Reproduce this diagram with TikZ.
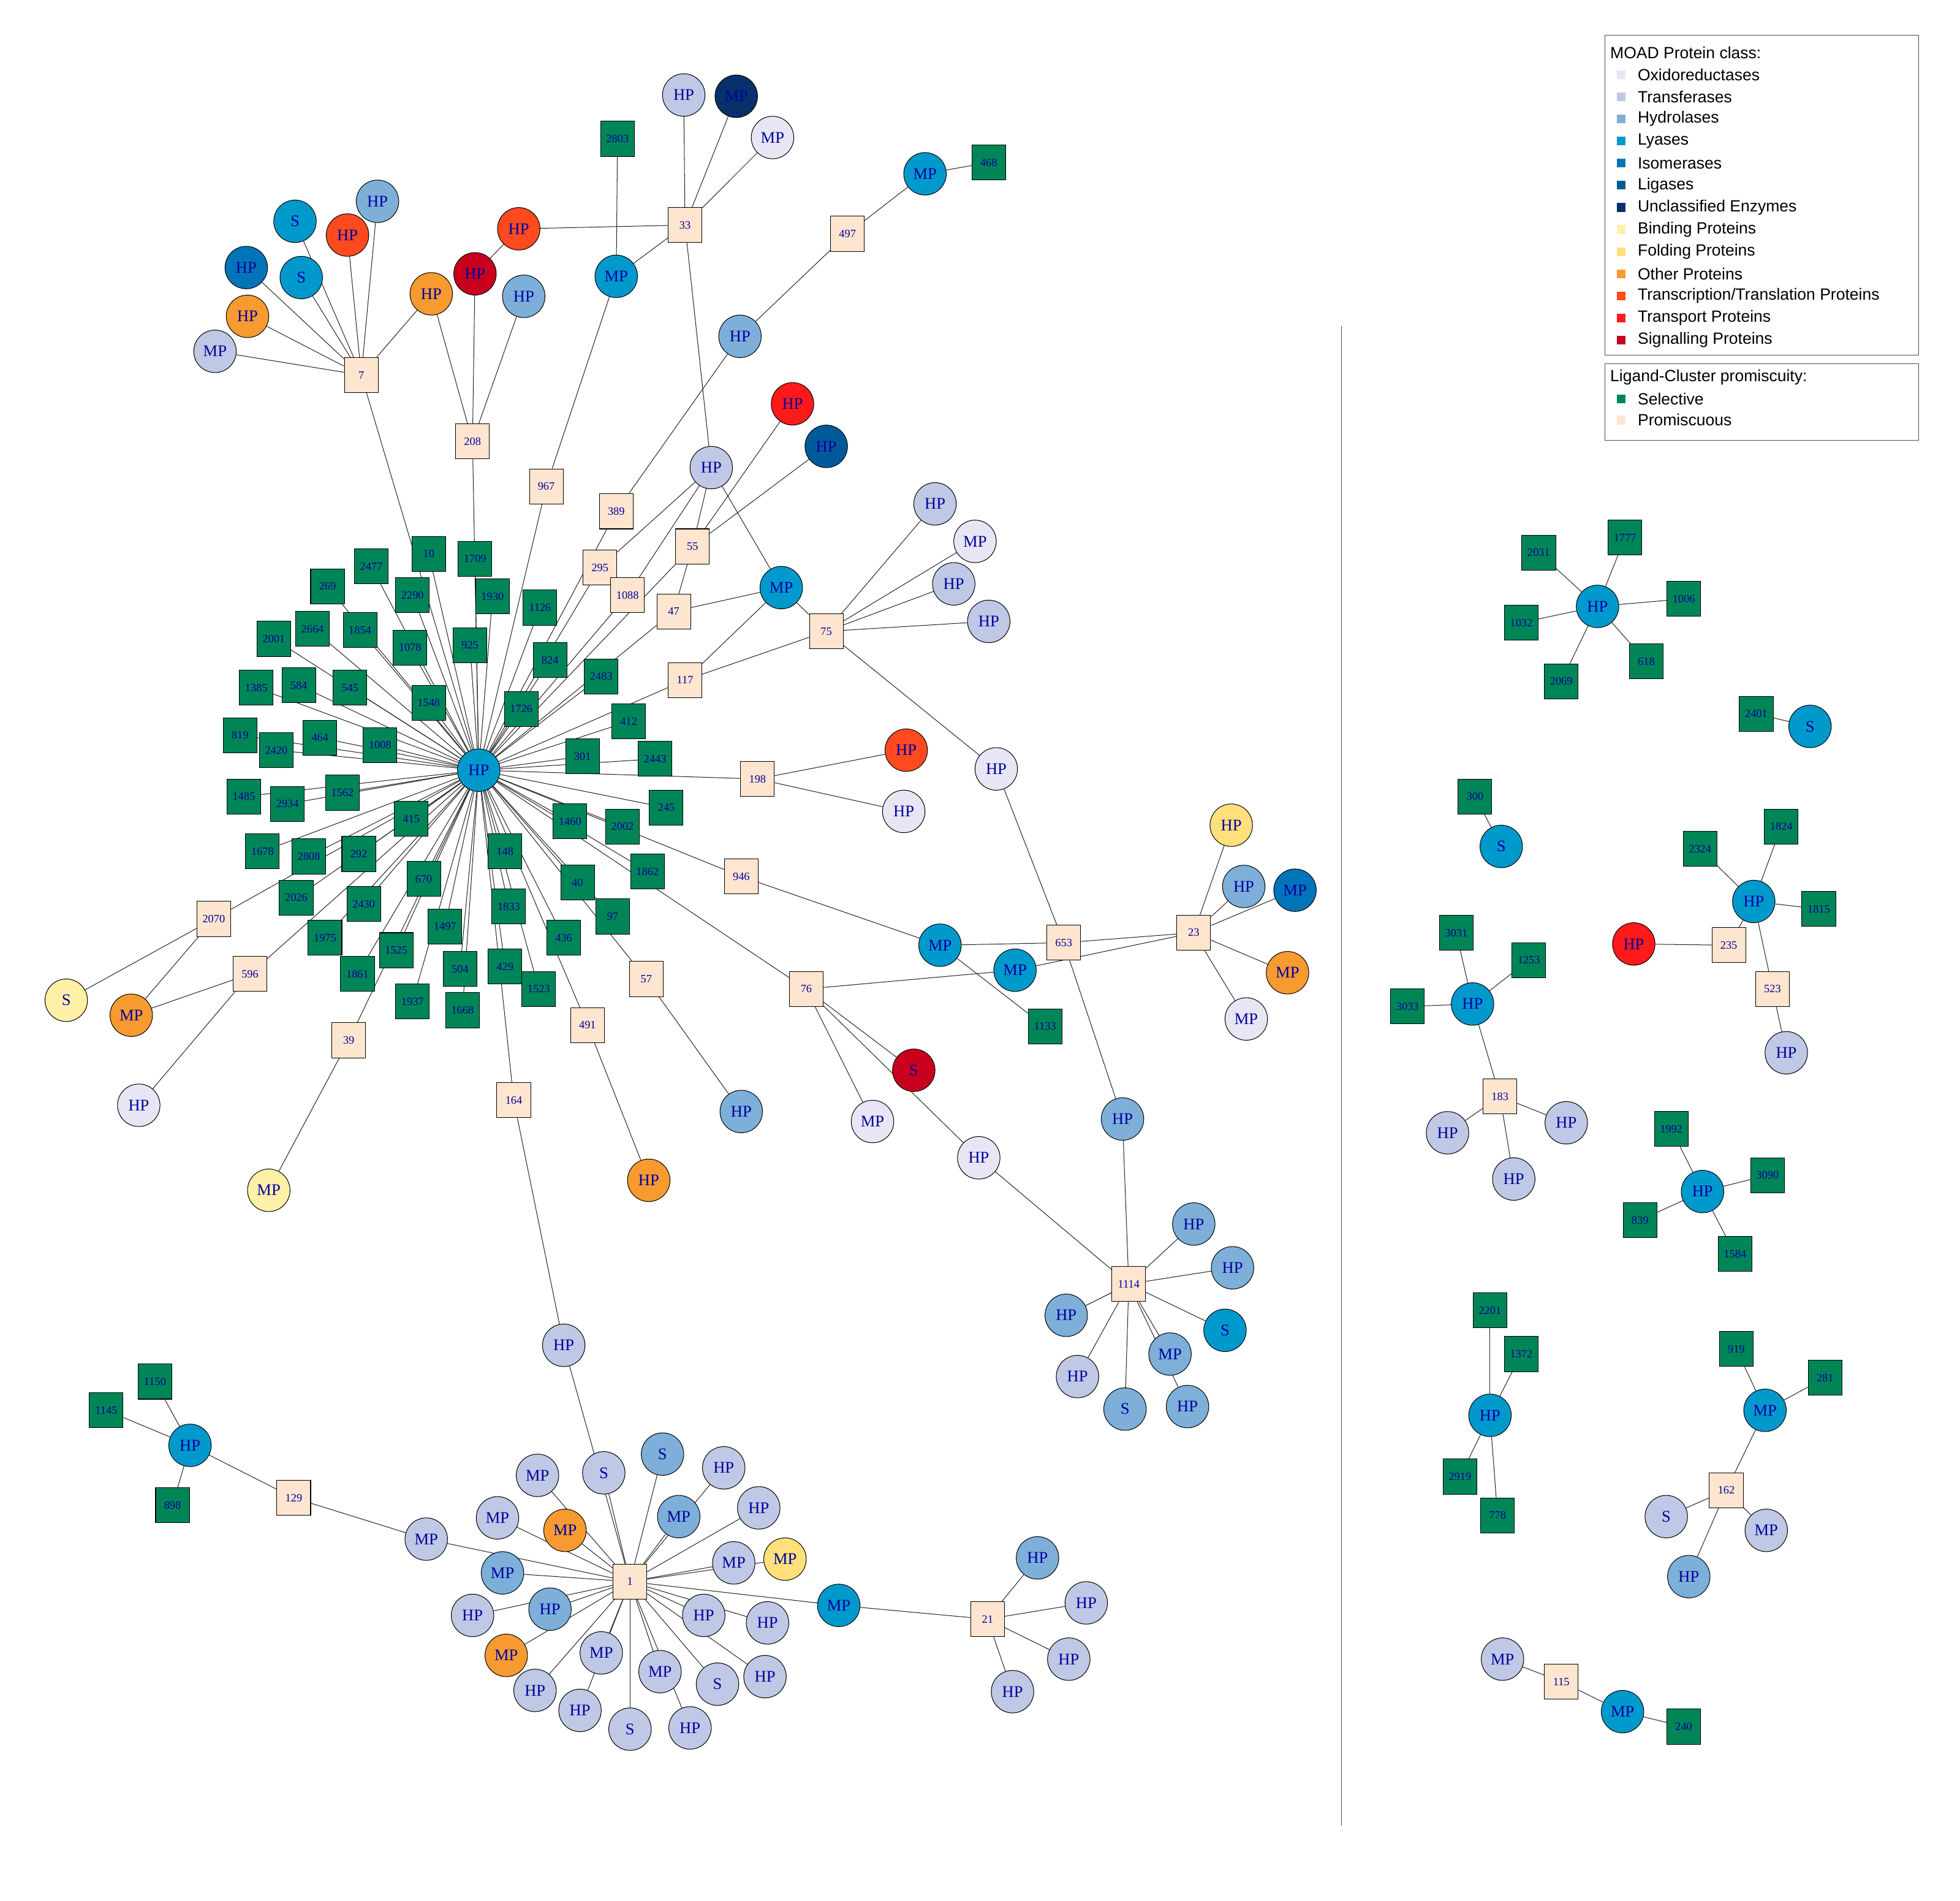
\documentclass[tikz,border=0pt]{standalone}
\usepackage{fontspec}
\setmainfont{Liberation Serif}
\newfontfamily\legf{Liberation Sans}
\usetikzlibrary{backgrounds}
\definecolor{cox}{HTML}{E8E6F4}\definecolor{ctr}{HTML}{BFC8E4}\definecolor{chy}{HTML}{7DAFD8}
\definecolor{cly}{HTML}{0099CC}\definecolor{cis}{HTML}{0074B8}\definecolor{cli}{HTML}{005A9A}
\definecolor{cun}{HTML}{08306B}\definecolor{cbi}{HTML}{FFF0A8}\definecolor{cfo}{HTML}{FFE07A}
\definecolor{cot}{HTML}{F79A30}\definecolor{ctt}{HTML}{FF4A20}\definecolor{ctp}{HTML}{FF1A1A}
\definecolor{csi}{HTML}{C8001E}\definecolor{csel}{HTML}{008556}\definecolor{cpro}{HTML}{FDE5CF}
\definecolor{txt}{HTML}{0000A0}
\tikzset{
 cn/.style={circle,draw=black,line width=0.5pt,fill=#1,minimum size=34,inner sep=0,font=\fontsize{13}{13}\selectfont,text=txt},
 ox/.style={cn=cox},tr/.style={cn=ctr},hy/.style={cn=chy},ly/.style={cn=cly},is/.style={cn=cis},
 li/.style={cn=cli},un/.style={cn=cun},bi/.style={cn=cbi},fo/.style={cn=cfo},ot/.style={cn=cot},
 tt/.style={cn=ctt},tp/.style={cn=ctp},si/.style={cn=csi},
 sqr/.style={rectangle,draw=black,line width=0.5pt,fill=#1,minimum width=27,minimum height=28,inner sep=0,font=\fontsize{9}{9}\selectfont,text=txt},
 sel/.style={sqr=csel},pro/.style={sqr=cpro},
 ed/.style={draw=black!85,line width=0.5pt},
 lg/.style={anchor=west,font=\legf\fontsize{13}{13}\selectfont,inner sep=0},
 mk/.style={minimum size=7,inner sep=0,fill=#1}
}
\begin{document}
\begin{tikzpicture}[x=1pt,y=-1pt]
\useasboundingbox (0,0) rectangle (1568,1520);
\node[ly] (H) at (383,616) {HP};
\foreach \l/\x/\y in {10/343/443,1709/380/447,2477/297/453,269/262/469,2290/330/476,1930/394/477,1126/432/486,2664/250/503,1854/288/504,1078/328/518,925/376/516,2001/219/511,824/440/528,2483/481/541,1385/205/550,584/239/548,545/280/550,1548/343/562,1726/417/567,819/192/588,2420/221/600,464/256/590,1008/304/596,412/503/577,301/466/605,2443/524/607,1485/195/637,2934/230/643,1562/274/634,415/329/655,245/533/646,1460/456/657,2002/498/661,1678/210/681,2808/247/685,292/287/683,148/404/681,1862/518/697,670/339/703,40/462/706,2026/237/718,2430/291/723,97/490/733,1833/407/725,1975/260/750,1497/356/741,436/451/750,1525/317/760,504/368/775,429/404/773,1861/286/779,1523/431/791,1937/330/801,1668/370/808}
 {\node[sel] (s\l) at (\x,\y) {\l};
  \begin{pgfonlayer}{background}\draw[ed] (H)--(s\l);\end{pgfonlayer}}
% promiscuous
\foreach \l/\x/\y in {7/289/300,208/378/353,33/548/180,967/437/389,497/678/187,389/493/409,295/480/454,1088/502/476,55/554/437,47/539/489,117/548/544,75/661/505,653/851/754,198/606/623,946/593/701,23/955/746,76/645/791,1114/903/1027,57/517/783,491/470/820,164/411/880,2070/171/735,596/200/779,39/279/832,129/235/1198,1/504/1265,21/790/1295,183/1200/877,235/1383/756,523/1418/791,162/1381/1192,115/1249/1345}
 {\node[pro] (p\l) at (\x,\y) {\l};}
% other selective
\foreach \l/\x/\y in {2803/494/111,468/791/130,1133/836/821,1150/124/1105,1145/85/1128,898/138/1204,2031/1231/442,1777/1300/430,1032/1217/498,1006/1347/479,2069/1249/545,618/1317/529,2401/1405/571,300/1180/637,1824/1425/661,2324/1360/679,1815/1455/727,3031/1165/746,1253/1223/768,3033/1126/805,1992/1337/903,3090/1414/940,839/1312/976,1584/1388/1003,2201/1192/1048,1372/1217/1083,2919/1168/1181,778/1198/1212,919/1389/1079,281/1460/1102,240/1347/1381}
 {\node[sel] (s\l) at (\x,\y) {\l};}
% circles
\foreach \n/\s/\x/\y/\t in {a1/tr/172/281/MP,a2/ot/198/253/HP,a3/is/197/214/HP,a4/ly/236/177/S,a5/ly/241/222/S,a6/tt/278/188/HP,a7/hy/302/161/HP,a8/ot/345/235/HP,a9/si/380/219/HP,a10/hy/419/237/HP,a11/tt/415/183/HP,a12/tr/547/76/HP,a13/un/589/77/MP,a14/ox/618/110/MP,a15/ly/493/221/MP,a16/ly/740/139/MP,a17/hy/592/269/HP,a18/tr/569/374/HP,a19/tp/634/323/HP,a20/li/661/357/HP,a21/ly/625/470/MP,a22/tr/748/403/HP,a23/ox/780/433/MP,a24/tr/763/467/HP,a25/tr/791/497/HP,a26/ox/797/615/HP,a27/tt/725/600/HP,a28/ox/723/649/HP,a29/ly/752/756/MP,a30/hy/898/895/HP,a31/fo/985/660/HP,a32/hy/995/709/HP,a33/is/1036/712/MP,a34/ot/1030/778/MP,a35/ox/997/815/MP,a36/ly/812/776/MP,a37/ox/698/897/MP,a38/si/731/856/S,a39/ox/783/926/HP,a40/hy/593/889/HP,a41/ot/519/944/HP,a42/tr/451/1076/HP,a43/bi/53/800/S,a44/ot/105/812/MP,a45/ox/111/884/HP,a46/bi/215/952/MP,
b1/hy/955/979/HP,b2/hy/986/1014/HP,b3/ly/980/1064/S,b4/hy/936/1083/MP,b5/hy/950/1125/HP,b6/hy/900/1127/S,b7/tr/862/1101/HP,b8/hy/853/1052/HP,
c1/ly/152/1156/HP,c2/tr/341/1231/MP,e1/hy/830/1246/HP,e2/tr/869/1282/HP,e3/tr/855/1327/HP,e4/tr/810/1353/HP,
d1/tr/430/1180/MP,d2/tr/483/1178/S,d3/hy/530/1163/S,d4/tr/579/1174/HP,d5/tr/607/1206/HP,d6/tr/398/1214/MP,d7/ot/452/1224/MP,d8/hy/543/1213/MP,d9/tr/587/1250/MP,d10/fo/628/1247/MP,d11/hy/402/1258/MP,d12/tr/378/1292/HP,d13/hy/440/1287/HP,d14/tr/563/1292/HP,d15/tr/614/1298/HP,d16/ot/405/1324/MP,d17/tr/481/1322/MP,d18/tr/528/1337/MP,d19/tr/612/1341/HP,d20/tr/574/1347/S,d21/tr/428/1352/HP,d22/tr/464/1368/HP,d23/tr/504/1383/S,d24/tr/552/1382/HP,d25/ly/671/1284/MP,
r1/ly/1278/485/HP,r2/ly/1448/581/S,r3/ly/1201/677/S,r4/ly/1403/721/HP,r5/tp/1307/755/HP,r6/tr/1429/842/HP,r7/ly/1178/803/HP,r8/tr/1158/906/HP,r9/tr/1253/898/HP,r10/tr/1211/943/HP,r11/ly/1362/953/HP,r12/ly/1192/1132/HP,r13/ly/1412/1128/MP,r14/tr/1333/1213/S,r15/tr/1413/1224/MP,r16/hy/1351/1261/HP,r17/tr/1202/1327/MP,r18/ly/1298/1369/MP}
 {\node[\s] (\n) at (\x,\y) {\t};}
\begin{pgfonlayer}{background}
\foreach \a/\b in {p7/a1,p7/a2,p7/a3,p7/a4,p7/a5,p7/a6,p7/a7,p7/a8,p7/H,p208/a8,p208/a9,p208/a10,p208/H,a9/a11,a11/p33,p33/a12,p33/a13,p33/a14,p33/a15,p33/a18,s2803/a15,a15/p967,p967/H,p497/a16,p497/a17,a16/s468,a17/p389,p389/H,a18/p295,a18/p1088,a18/p55,a18/a21,p55/a19,p55/a20,p55/p47,p55/H,p295/H,p1088/H,p47/H,p47/a21,p117/H,p117/a21,p117/p75,p75/a22,p75/a23,p75/a24,p75/a25,p75/a26,p75/a21,a26/p653,p198/H,p198/a27,p198/a28,p946/H,p946/a29,a29/p653,a29/s1133,p653/a30,p653/p23,p23/a31,p23/a32,p23/a33,p23/a34,p23/a35,p23/a36,p76/H,p76/a36,p76/a37,p76/a38,p76/a39,a39/p1114,p1114/a30,p1114/b1,p1114/b2,p1114/b3,p1114/b4,p1114/b5,p1114/b6,p1114/b7,p1114/b8,p57/H,p57/a40,p491/H,p491/a41,p164/H,p164/a42,a42/p1,p2070/H,p2070/a43,p2070/a44,p596/H,p596/a44,p596/a45,p39/H,p39/a46,
c1/s1150,c1/s1145,c1/s898,c1/p129,p129/c2,c2/p1,d25/p21,p21/e1,p21/e2,p21/e3,p21/e4,
r1/s2031,r1/s1777,r1/s1032,r1/s1006,r1/s2069,r1/s618,s2401/r2,s300/r3,r4/s1824,r4/s2324,r4/s1815,r4/p235,p235/r5,r4/p523,p523/r6,r7/s3031,r7/s1253,r7/s3033,r7/p183,p183/r8,p183/r9,p183/r10,r11/s1992,r11/s3090,r11/s839,r11/s1584,r12/s2201,r12/s1372,r12/s2919,r12/s778,r13/s919,r13/s281,r13/p162,p162/r14,p162/r15,p162/r16,p115/r17,p115/r18,r18/s240}
 {\draw[ed] (\a)--(\b);}
\foreach \i in {1,...,25} {\draw[ed] (p1)--(d\i);}
\end{pgfonlayer}
\draw[black!70,line width=0.6pt] (1073,261) -- (1073,1460);
% legend
\draw[black!70,line width=0.6pt] (1284,28) rectangle (1535,284);
\draw[black!70,line width=0.6pt] (1284,291) rectangle (1535,352);
\node[lg] (lt1) at (1288,42) {MOAD Protein class:};
\foreach \c/\t [count=\i] in {cox/Oxidoreductases,ctr/Transferases,chy/Hydrolases,cly/Lyases,cis/Isomerases,cli/Ligases,cun/Unclassified Enzymes,cbi/Binding Proteins,cfo/Folding Proteins,cot/Other Proteins,ctt/{Transcription/Translation Proteins},ctp/Transport Proteins,csi/Signalling Proteins}
 {\node[mk=\c] (m\i) at (1297,{42+17.7*\i}) {};
  \node[lg] (l\i) at (1310,{42+17.7*\i}) {\t};}
\node[lg] (lt2) at (1288,302) {Ligand-Cluster promiscuity:};
\node[mk=csel] (mm1) at (1297,319) {};\node[lg] (ll1) at (1310,319) {Selective};
\node[mk=cpro] (mm2) at (1297,336) {};\node[lg] (ll2) at (1310,336) {Promiscuous};
\end{tikzpicture}
\end{document}
